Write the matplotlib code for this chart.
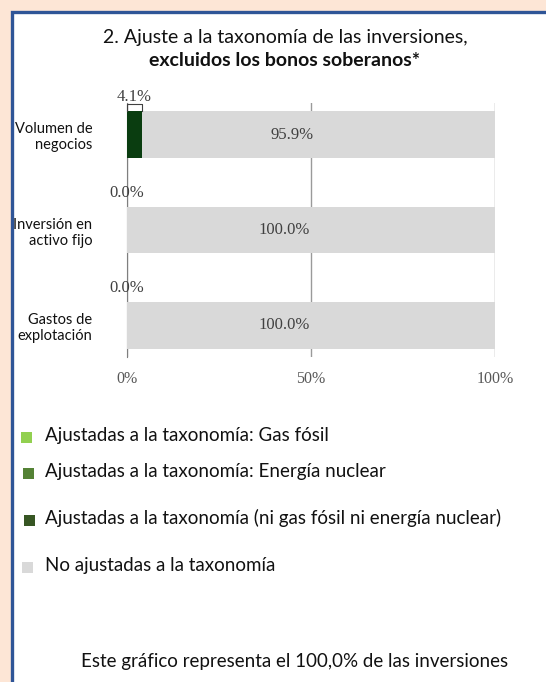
import matplotlib
matplotlib.use("Agg")
import matplotlib.pyplot as plt
from matplotlib.patches import Rectangle

categories = ["Volumen de\nnegocios", "Inversión en\nactivo fijo", "Gastos de\nexplotación"]
gas_fosil = [0.0, 0.0, 0.0]
nuclear = [0.0, 0.0, 0.0]
ni_gas_ni_nuclear = [4.1, 0.0, 0.0]
no_ajustadas = [95.9, 100.0, 100.0]
x_ticks = [0, 50, 100]
x_tick_labels = ["0%", "50%", "100%"]

legend_labels = [
    "Ajustadas a la taxonomía: Gas fósil",
    "Ajustadas a la taxonomía: Energía nuclear",
    "Ajustadas a la taxonomía (ni gas fósil ni energía nuclear)",
    "No ajustadas a la taxonomía",
]
legend_colors = ["#92d050", "#548235", "#375623", "#d9d9d9"]
bar_dark = "#0a3d10"

W, H = 546, 682
fig = plt.figure(figsize=(W / 100, H / 100), dpi=100)
fig.patch.set_facecolor("#fde6d6")

# white panel with blue frame (runs off the right and bottom edges)
def px(x, y):
    return x / W, 1 - y / H

fig.patches.append(Rectangle(px(11.5, 700), 600 / W, (700 - 11.5) / H, transform=fig.transFigure,
                             facecolor="white", edgecolor="#2f5597", linewidth=2.4, zorder=-5))

sans = "Lato"
serif = "Liberation Serif"

fig.text(*px(285, 37), "2. Ajuste a la taxonomía de las inversiones,", ha="center", va="center",
         fontsize=14, family=sans, color="#111111")
fig.text(*px(285, 61), "excluidos los bonos soberanos*", ha="center", va="center",
         fontsize=14, family=sans, fontweight="bold", color="#111111")

l, t = px(127, 103)
r, b = px(495, 357)
ax = fig.add_axes([l, b, r - l, t - b])
ax.set_zorder(2)
ax.set_facecolor("none")

y = list(range(len(categories)))
h = 0.49
left = [0.0] * len(y)
for vals, col in [(gas_fosil, legend_colors[0]), (nuclear, legend_colors[1]),
                  (ni_gas_ni_nuclear, bar_dark), (no_ajustadas, legend_colors[3])]:
    ax.barh(y, vals, left=left, height=h, color=col, zorder=2)
    left = [a + v for a, v in zip(left, vals)]

# labels for aligned share (above the bar) and not aligned share (inside)
for i in y:
    al = gas_fosil[i] + nuclear[i] + ni_gas_ni_nuclear[i]
    ax.annotate(f"{al:.1f}%", (al / 2, i - h / 2), xytext=(0, 10),
                textcoords="offset points", ha="center", va="center",
                fontsize=12, family=serif, color="#404040", zorder=4, annotation_clip=False)
    if al > 0:
        ax.plot([0, 0, al, al], [i - h / 2, i - h / 2 - 0.07, i - h / 2 - 0.07, i - h / 2],
                color="#404040", lw=0.8, zorder=3, clip_on=False)
    ax.annotate(f"{no_ajustadas[i]:.1f}%", (al + no_ajustadas[i] / 2, i), xytext=(-19, 0),
                textcoords="offset points", ha="center", va="center",
                fontsize=12, family=serif, color="#404040", zorder=4)

ax.set_xlim(0, 100)
ax.set_ylim(len(y) - 1 + 0.33, -0.33)
ax.set_xticks(x_ticks)
ax.set_xticklabels(x_tick_labels, family=serif, fontsize=11.5, color="#595959")
ax.set_yticks(y)
ax.set_yticklabels(categories, family=sans, fontsize=10.5, color="#111111", multialignment="right")
ax.tick_params(axis="both", length=0)
ax.tick_params(axis="y", pad=25)
ax.tick_params(axis="x", pad=10)
ax.grid(axis="x", color="#9a9a9a", lw=1.0, zorder=1)
ax.set_axisbelow(True)
for s in ["top", "right", "bottom"]:
    ax.spines[s].set_visible(False)
ax.spines["left"].set_color("#7f7f7f")
ax.spines["left"].set_zorder(1)

# legend, drawn manually to keep the uneven spacing of the original
legend_rows = [(26, 437), (28, 473), (29, 520), (27, 567)]
for (cx, cy), lab, col in zip(legend_rows, legend_labels, legend_colors):
    fig.patches.append(Rectangle(px(cx - 5.5, cy + 5.5), 11 / W, 11 / H, transform=fig.transFigure,
                                 facecolor=col, edgecolor="none"))
    fig.text(*px(45, cy - 2), lab, ha="left", va="center", fontsize=13.5, family=sans, color="#111111")

fig.text(*px(508, 661), "Este gráfico representa el 100,0% de las inversiones", ha="right", va="center",
         fontsize=13.5, family=sans, color="#111111")

fig.savefig("out.png", dpi=100, facecolor=fig.get_facecolor())
